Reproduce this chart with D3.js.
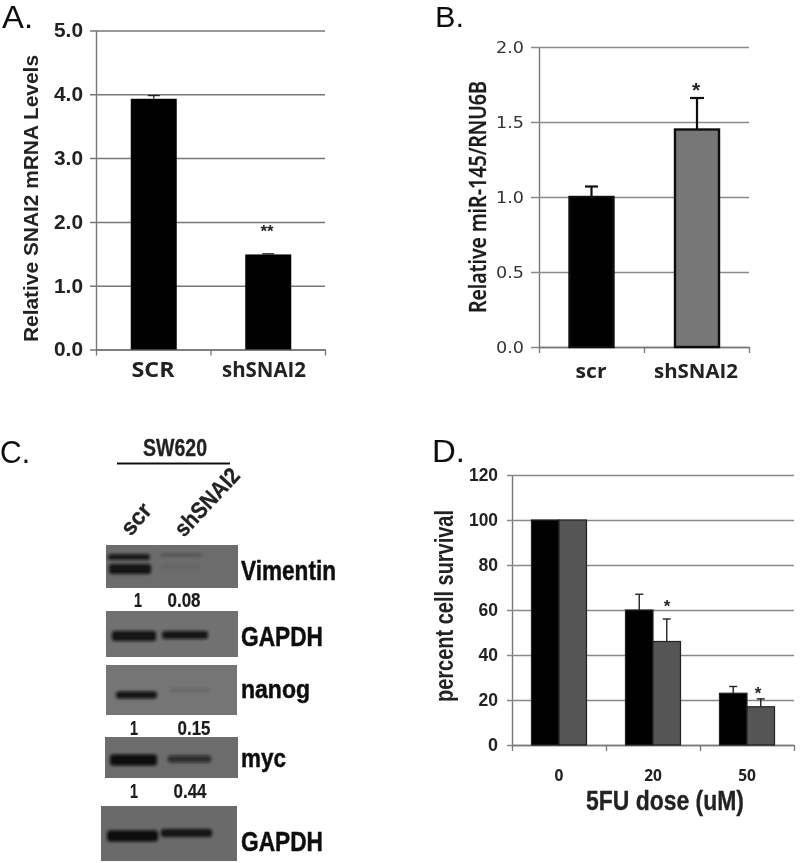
<!DOCTYPE html>
<html><head><meta charset="utf-8">
<script src="https://cdnjs.cloudflare.com/ajax/libs/d3/7.8.5/d3.min.js"></script>
<style>html,body{margin:0;padding:0;background:#fff}svg{display:block}</style>
</head><body><svg id="c" width="800" height="863"></svg>
<script>
// ---- data ----
const aCategories = ["SCR", "shSNAI2"];
const aValues = [3.93, 1.49];
const aErrors = [0.05, 0.01];
const aTicks = [0, 1, 2, 3, 4, 5];

const bCategories = ["scr", "shSNAI2"];
const bValues = [1.0, 1.45];
const bErrors = [0.07, 0.21];
const bTicks = [0, 0.5, 1, 1.5, 2];

const dCategories = ["0", "20", "50"];
const dScr = [100, 60, 23];
const dSh = [100, 46, 17];
const dScrErr = [0, 7, 3];
const dShErr = [0, 10, 3.5];
const dTicks = [0, 20, 40, 60, 80, 100, 120];

const blotNames = ["Vimentin", "GAPDH", "nanog", "myc", "GAPDH"];
const blotScr = [[0.9, 0.95], [0.95], [0.95], [1], [1]];
const blotSh = [[0.25, 0.08], [0.92], [0.1], [0.7], [0.95]];
const blotQuant = [["1", "0.08"], null, ["1", "0.15"], ["1", "0.44"], null];

// ---- helpers ----
const svg = d3.select("#c");
const defs = svg.append("defs");
defs.append("filter").attr("id","soft").attr("x","-2%").attr("y","-2%").attr("width","104%").attr("height","104%")
  .append("feGaussianBlur").attr("stdDeviation",0.45);
defs.append("filter").attr("id","band").attr("x","-20%").attr("y","-100%").attr("width","140%").attr("height","300%")
  .append("feGaussianBlur").attr("stdDeviation",1.7);
const root = svg.append("g").attr("filter","url(#soft)");
const SANS = "'Liberation Sans',Arial,sans-serif", OPEN = "'Open Sans',sans-serif", DJ = "'DejaVu Sans',sans-serif";

function txt(g,s,x,y,o={}){
  const t=g.append("text").attr("x",x).attr("y",y).text(s)
   .attr("font-family",o.f||SANS).attr("font-size",o.s||16).attr("font-weight",o.w||"normal")
   .attr("fill",o.c||"#111").attr("text-anchor",o.a||"start");
  if(o.len) t.attr("textLength",o.len).attr("lengthAdjust","spacingAndGlyphs");
  if(o.r!=null) t.attr("transform",`rotate(${o.r} ${x} ${y})`);
  if(o.heavy) t.attr("stroke",o.c||"#111").attr("stroke-width",o.heavy);
  return t;
}
// frame: gridded value axis plus category axis, both from d3 axes
function frame(c){
  const g=root.append("g");
  const y=d3.scaleLinear().domain(c.domain).range([c.y0,c.y1]);
  const ya=d3.axisLeft(y).tickValues(c.ticks).tickFormat(c.fmt).tickSize(0).tickPadding(c.pad);
  const yg=g.append("g").attr("transform",`translate(${c.x0},0)`).call(ya);
  yg.select(".domain").attr("stroke","#777").attr("stroke-width",1.4);
  yg.selectAll(".tick line").attr("x1",-c.tick).attr("x2",c.x1-c.x0).attr("stroke",c.grid).attr("stroke-width",1.5);
  yg.selectAll(".tick text").attr("font-family",c.tf).attr("font-size",c.ts).attr("font-weight",c.tw)
    .attr("fill",c.tc).attr("textLength",d=>c.tl(d)).attr("lengthAdjust","spacingAndGlyphs");
  const n=c.cats.length;
  const sep=d3.scaleLinear().domain([0,n]).range([c.x0,c.x1]);
  const xa=d3.axisBottom(sep).tickValues(d3.range(n+1)).tickFormat("").tickSize(6).tickSizeOuter(0);
  const xg=g.append("g").attr("transform",`translate(0,${c.y0})`).call(xa);
  xg.select(".domain").attr("stroke","#777").attr("stroke-width",1.4);
  xg.selectAll(".tick line").attr("stroke","#777").attr("stroke-width",1.3);
  const x=d3.scaleBand().domain(c.cats).range([c.x0,c.x1]);
  return {g,x,y};
}
function err(g,cx,yv,ytop,cap,w,col){
  g.append("line").attr("x1",cx).attr("x2",cx).attr("y1",yv).attr("y2",ytop).attr("stroke",col).attr("stroke-width",w);
  g.append("line").attr("x1",cx-cap/2).attr("x2",cx+cap/2).attr("y1",ytop).attr("y2",ytop).attr("stroke",col).attr("stroke-width",w);
}

// ---- panel A ----
{
  const c=frame({domain:[0,5],y0:349.5,y1:30.5,x0:96,x1:325,ticks:aTicks,fmt:d3.format(".1f"),pad:13,tick:6,grid:"#777",
    tf:SANS,ts:20,tw:"bold",tc:"#222",tl:()=>29,cats:aCategories});
  const bw=46;
  c.g.selectAll(".bar").data(aValues).join("rect").attr("x",(d,i)=>c.x(aCategories[i])+c.x.bandwidth()/2-bw/2+0.5)
    .attr("width",bw).attr("y",d=>c.y(d)).attr("height",d=>c.y(0)-c.y(d)).attr("fill","#000");
  aValues.forEach((v,i)=>err(c.g,c.x(aCategories[i])+c.x.bandwidth()/2+0.5,c.y(v),c.y(v+aErrors[i]),12,1.3,"#222"));
  txt(c.g,"SCR",153,377,{f:OPEN,w:"bold",s:21,a:"middle",len:43,c:"#222"});
  txt(c.g,"shSNAI2",264,377,{f:OPEN,w:"bold",s:21,a:"middle",len:84,c:"#222"});
  txt(c.g,"**",267,237,{s:17,w:"bold",a:"middle",c:"#222"});
  txt(c.g,"Relative SNAI2 mRNA Levels",38,342,{w:"bold",s:20.5,r:-90,len:287,c:"#222"});
  txt(c.g,"A.",2,28,{s:31,c:"#111",len:31});
}
// ---- panel B ----
{
  const c=frame({domain:[0,2],y0:347,y1:47,x0:539,x1:749,ticks:bTicks,fmt:d3.format(".1f"),pad:15,tick:8,grid:"#8a8a8a",
    tf:DJ,ts:16,tw:"normal",tc:"#333",tl:()=>28,cats:bCategories});
  const bw=44, cols=["#000","#777"];
  c.g.selectAll(".bar").data(bValues).join("rect").attr("x",(d,i)=>[591.5,697][i]-bw/2)
    .attr("width",bw).attr("y",d=>c.y(d)).attr("height",d=>c.y(0)-c.y(d))
    .attr("fill",(d,i)=>cols[i]).attr("stroke","#111").attr("stroke-width",2.4);
  bValues.forEach((v,i)=>err(c.g,[591.5,697][i],c.y(v),c.y(v+bErrors[i]),i?14:13,2.2,"#111"));
  txt(c.g,"scr",591,378,{f:OPEN,w:"bold",s:20,a:"middle",len:31,c:"#222"});
  txt(c.g,"shSNAI2",696,378,{f:OPEN,w:"bold",s:20,a:"middle",len:84,c:"#222"});
  txt(c.g,"*",696,97,{s:21,w:"bold",a:"middle",c:"#222"});
  txt(c.g,"Relative miR-145/RNU6B",486,313,{f:OPEN,w:"600",s:22.5,r:-90,len:232,c:"#1a1a1a",heavy:0.3});
  txt(c.g,"B.",435,27,{s:30,c:"#111",len:29});
}
// ---- panel D ----
{
  const c=frame({domain:[0,120],y0:745,y1:475,x0:512,x1:794,ticks:dTicks,fmt:d3.format("d"),pad:14,tick:5,grid:"#888",
    tf:SANS,ts:18,tw:"bold",tc:"#222",tl:d=>d>=100?29:d>0?19.5:10,cats:dCategories});
  const bw=27.5, mid=dCategories.map(k=>c.x(k)+c.x.bandwidth()/2);
  const series=[[dScr,dScrErr,"#000",-1],[dSh,dShErr,"#555",1]];
  series.forEach(([vals,errs,col,side])=>{
    c.g.selectAll(null).data(vals).join("rect")
      .attr("x",(d,i)=>mid[i]+(side<0?-bw:0)).attr("width",bw)
      .attr("y",d=>c.y(d)).attr("height",d=>c.y(0)-c.y(d))
      .attr("fill",col).attr("stroke","#222").attr("stroke-width",1.2);
    vals.forEach((v,i)=>{ if(errs[i]>0) err(c.g,mid[i]+side*bw/2,c.y(v),c.y(v+errs[i]),8,1.4,"#222"); });
  });
  dCategories.forEach((k,i)=>txt(c.g,k,mid[i],781,{f:OPEN,w:"bold",s:15.5,a:"middle",c:"#222"}));
  txt(c.g,"*",667,612,{s:17,w:"bold",a:"middle",c:"#222"});
  txt(c.g,"*",758,699,{s:17,w:"bold",a:"middle",c:"#222"});
  txt(c.g,"5FU dose (uM)",586,810,{w:"bold",s:27,len:158,c:"#222",heavy:0.3});
  txt(c.g,"percent cell survival",453,702,{s:25,r:-90,len:192,c:"#222",w:"bold"});
  txt(c.g,"D.",432,462,{s:31,c:"#111",len:33});
}
// ---- panel C ----
{
  const g=root.append("g");
  txt(g,"C.",0,463,{s:31,c:"#111",len:30});
  txt(g,"SW620",175,456,{w:"bold",s:23,a:"middle",len:64,c:"#222",heavy:0.3});
  g.append("line").attr("x1",117).attr("x2",230).attr("y1",463.5).attr("y2",463.5).attr("stroke","#111").attr("stroke-width",2);
  txt(g,"scr",131,537,{w:"bold",s:23,r:-50,len:34,c:"#222",heavy:0.3});
  txt(g,"shSNAI2",184,538,{w:"bold",s:23,r:-47,len:84,c:"#222",heavy:0.3});
  const panels=[
    {x:[106,238],y:[545,588],bg:"#6c6c6c",lab:[241,580,95],q:[138,184,607],scr:[[108,150,557,6],[109,151,569,10]],sh:[[160,202,555,3],[160,200,566,3]]},
    {x:[106,238],y:[611,657],bg:"#717171",lab:[241,646,82],scr:[[112,156,636,10]],sh:[[162,208,635,8]]},
    {x:[106,237],y:[665,715],bg:"#747474",lab:[241,698,69],q:[134,194,735],scr:[[116,157,695,7]],sh:[[170,210,690,4]]},
    {x:[105,238],y:[737,778],bg:"#6c6c6c",lab:[241,767,45],q:[134,190,798],scr:[[110,157,760,11]],sh:[[168,211,759,7]]},
    {x:[101,237],y:[806,861],bg:"#6a6a6a",lab:[241,851,82],scr:[[107,158,836,11]],sh:[[161,212,833,8]]}
  ];
  const alpha=d3.scaleLinear().domain([0,1]).range([0,1]);
  panels.forEach((p,i)=>{
    g.append("rect").attr("x",p.x[0]).attr("y",p.y[0]).attr("width",p.x[1]-p.x[0]).attr("height",p.y[1]-p.y[0]).attr("fill",p.bg);
    const pg=g.append("g").attr("filter","url(#band)");
    [[p.scr,blotScr[i]],[p.sh,blotSh[i]]].forEach(([geo,vals])=>{
      pg.selectAll(null).data(vals).join("rect")
        .attr("x",(d,j)=>geo[j][0]).attr("width",(d,j)=>geo[j][1]-geo[j][0])
        .attr("y",(d,j)=>geo[j][2]-geo[j][3]/2).attr("height",(d,j)=>geo[j][3]).attr("rx",3)
        .attr("fill","#0a0a0a").attr("opacity",d=>alpha(d));
    });
    txt(g,blotNames[i],p.lab[0],p.lab[1],{w:"bold",s:i==3||i==2?26:28,len:p.lab[2],c:"#111",heavy:0.5});
    if(blotQuant[i]){
      txt(g,blotQuant[i][0],p.q[0],p.q[2],{w:"bold",s:20,a:"middle",len:8,c:"#1a1a1a",heavy:0.2});
      txt(g,blotQuant[i][1],p.q[1],p.q[2],{w:"bold",s:20,a:"middle",len:33,c:"#1a1a1a",heavy:0.2});
    }
  });
}
</script></body></html>
